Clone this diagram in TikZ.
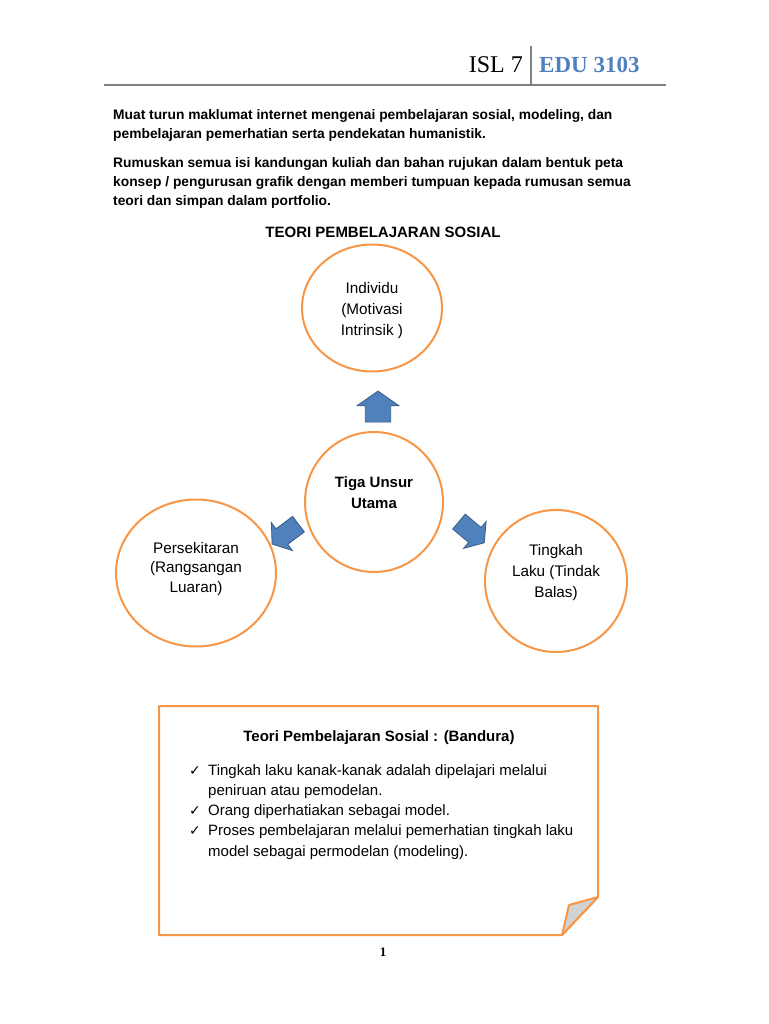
\documentclass[tikz,border=0pt]{standalone}
\usepackage{fontspec}
\setmainfont{Liberation Sans}
\newfontfamily\headfont{Liberation Serif}
\newfontfamily\symfont{DejaVu Sans}
\usetikzlibrary{shapes,arrows,positioning,calc}
\definecolor{ringorange}{RGB}{247,150,70}
\definecolor{arrowblue}{RGB}{79,129,189}
\definecolor{arrowedge}{RGB}{56,93,138}
\definecolor{headblue}{RGB}{79,129,189}
\definecolor{rulegray}{RGB}{128,128,128}

\newcommand{\tick}{\makebox[19pt][l]{\symfont\fontsize{14}{14}\selectfont ✓}}
\newcommand{\hang}{\hspace*{19pt}}

\begin{document}
\begin{tikzpicture}[
    x=1pt, y=-1pt,
    ring/.style={ellipse, draw=ringorange, line width=2pt, inner sep=0pt},
    ringtext/.style={align=center, inner sep=0pt, font=\fontsize{15.3}{21}\selectfont},
    pusher/.style={single arrow, draw=arrowedge, fill=arrowblue, line width=0.8pt,
                   inner xsep=0pt, single arrow tip angle=110},
    para/.style={anchor=north west, align=left, inner sep=0pt,
                 font=\bfseries\fontsize{13.8}{19.3}\selectfont}
]
\useasboundingbox (0,0) rectangle (768,1024);

% Page header
\node[anchor=base east, inner sep=0pt, font=\headfont\fontsize{24}{24}\selectfont] (isl) at (523, 73) {ISL 7};
\node[anchor=base west, inner sep=0pt, font=\headfont\bfseries\fontsize{23}{23}\selectfont, text=headblue] (edu) at (539, 73) {EDU 3103};
\draw[rulegray, line width=2pt] (104, 85) -- (666, 85);
\draw[rulegray, line width=1.2pt] (531, 46) -- (531, 85);

% Instructions
\node[para] (p1) at (113, 109) {Muat turun maklumat internet mengenai pembelajaran sosial, modeling, dan\\
    pembelajaran pemerhatian serta pendekatan humanistik.};
\node[para] (p2) at (113, 157) {Rumuskan semua isi kandungan kuliah dan bahan rujukan dalam bentuk peta\\
    konsep / pengurusan grafik dengan memberi tumpuan kepada rumusan semua\\
    teori dan simpan dalam portfolio.};
\node[font=\bfseries\fontsize{15}{16}\selectfont] (title) at (383, 232) {TEORI PEMBELAJARAN SOSIAL};

% Concept map
\node[ring, minimum width=140pt, minimum height=127pt] (indiv) at (372, 308) {};
\node[ring, minimum width=138pt, minimum height=140pt] (core) at (374, 502) {};
\node[ring, minimum width=160pt, minimum height=147pt] (env) at (196, 573) {};
\node[ring, minimum width=142pt, minimum height=142pt] (act) at (556, 581) {};

\node[ringtext] (indivtxt) at ($(indiv)+(0,3)$) {Individu\\(Motivasi\\Intrinsik )};
\node[ringtext, font=\bfseries\fontsize{15}{21}\selectfont] (coretxt) at ($(core)+(0,-9)$) {Tiga Unsur\\Utama};
\node[ringtext, font=\fontsize{15.3}{19.5}\selectfont] (envtxt) at ($(env)+(0,-4)$) {Persekitaran\\(Rangsangan\\Luaran)};
\node[ringtext] (acttxt) at ($(act)+(0,-8)$) {Tingkah\\Laku (Tindak\\Balas)};

% Block arrows from the core
\node[pusher, rotate=90, minimum height=31pt, minimum width=42pt, inner ysep=10.5pt] (up) at (378, 411) {};
\node[pusher, rotate=-143, minimum height=33pt, minimum width=35pt, inner ysep=8.5pt] (left) at (288, 532) {};
\node[pusher, rotate=-40, minimum height=33pt, minimum width=35pt, inner ysep=8.5pt] (right) at (469, 530) {};

% Summary note with folded corner
\draw[ringorange, line width=2pt, line join=round]
    (159, 706) -- (598, 706) -- (598, 897) -- (562, 935) -- (159, 935) -- cycle;
\filldraw[fill=gray!35, draw=ringorange, line width=2pt, line join=round]
    (598, 897) -- (569, 905) -- (562, 935) -- cycle;
\node[font=\bfseries\fontsize{15}{16}\selectfont] (notetitle) at (379, 738) {Teori Pembelajaran Sosial : (Bandura)};
\node[anchor=north west, align=left, inner sep=0pt, font=\fontsize{15}{20.3}\selectfont] (notes) at (189, 764) {%
    \tick Tingkah laku kanak-kanak adalah dipelajari melalui\\
    \hang peniruan atau pemodelan.\\
    \tick Orang diperhatiakan sebagai model.\\
    \tick Proses pembelajaran melalui pemerhatian tingkah laku\\
    \hang model sebagai permodelan (modeling).};

% Page number
\node[font=\headfont\bfseries\fontsize{13}{13}\selectfont] (pnum) at (383, 952) {1};
\end{tikzpicture}
\end{document}
